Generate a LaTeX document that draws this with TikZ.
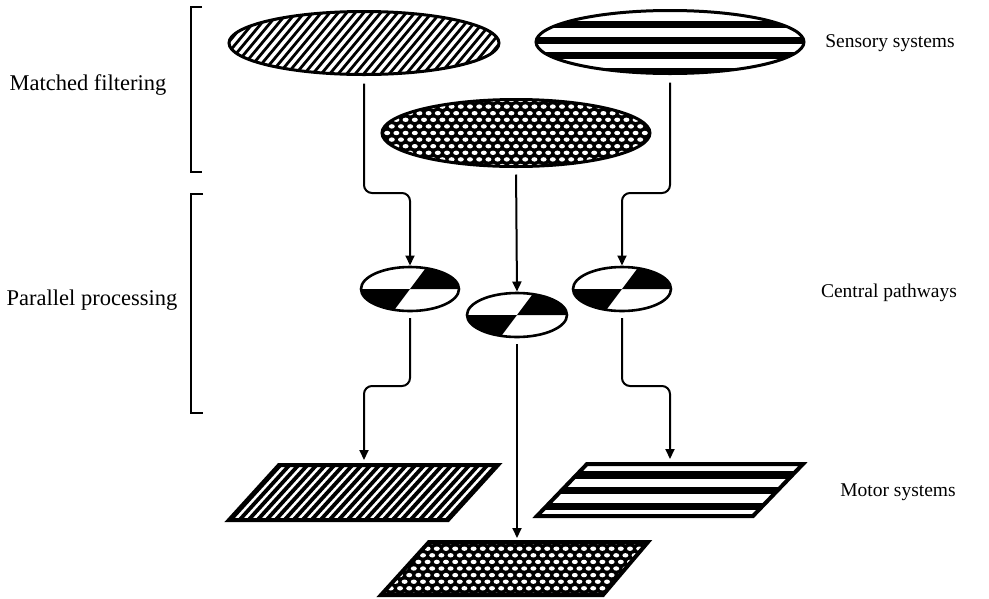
\documentclass[tikz,border=0pt]{standalone}
\usepackage{fontspec}
\setmainfont{Liberation Serif}
\usetikzlibrary{shapes.geometric,arrows.meta}

% white dots on black, hexagonal grid around the origin
\newcommand\dotfield[2]{%
  \foreach \r in {-#2,...,#2}{%
    \foreach \c in {-#1,...,#1}{%
      \pgfmathsetmacro\dx{\c*9.2+(isodd(\r)?4.6:0)}%
      \fill[white] (\dx,\r*6.6) ellipse [x radius=3.0, y radius=2.2];
    }%
  }%
}

\tikzset{
  sensor/.style={ellipse, draw=black, line width=3pt, inner sep=0pt, outer sep=0pt},
  hatched/.style={path picture={
      \begin{scope}[shift={(path picture bounding box.center)}]
        \foreach \i in {-20,...,20}
          \draw[line width=2.8pt] (\i*8.5-30,36) -- (\i*8.5+30,-36);
      \end{scope}}},
  banded/.style={path picture={
      \begin{scope}[shift={(path picture bounding box.center)}]
        \foreach \yy in {-17.5,-2,13.5,29.5}
          \fill (-140,\yy-3.5) rectangle (140,\yy+3.5);
      \end{scope}}},
  dotted field/.style={path picture={
      \begin{scope}[shift={(path picture bounding box.center)}]
        \fill (-140,-40) rectangle (140,40);
        \dotfield{16}{5}
      \end{scope}}},
  hub/.style={ellipse, draw=black, line width=2.6pt, inner sep=0pt, outer sep=0pt,
    minimum width=98pt, minimum height=44pt,
    path picture={
      \begin{scope}[shift={(path picture bounding box.center)}]
        \fill (0,0) -- (30,-40) -- (90,-40) -- (90,0) -- cycle;
        \fill (0,0) -- (-30,40) -- (-90,40) -- (-90,0) -- cycle;
      \end{scope}}},
  conn/.style={line width=2pt, -{Triangle[length=10pt,width=9pt]}, rounded corners=8pt},
  lefttext/.style={font=\fontsize{22.5}{27}\selectfont, inner sep=0pt},
  righttext/.style={font=\fontsize{19.5}{24}\selectfont, inner sep=0pt},
  brace/.style={line width=2pt},
  plate/.style={draw=black, line width=4pt, line join=miter},
}

\begin{document}
\begin{tikzpicture}[x=1pt, y=-1pt]
\useasboundingbox (0,0) rectangle (989,598);

% sensory systems
\node[sensor, hatched, minimum width=270pt, minimum height=63pt] (sensA) at (364,43) {};
\node[sensor, banded, minimum width=268pt, minimum height=63pt] (sensB) at (670,42) {};
\node[sensor, dotted field, minimum width=268pt, minimum height=67pt] (sensC) at (516,133) {};

% central pathways
\node[hub] (cenA) at (410,289) {};
\node[hub, minimum width=100pt] (cenB) at (517,315) {};
\node[hub] (cenC) at (622,289) {};

% motor systems
\begin{scope}
  \clip (279,465) -- (498,465) -- (448,520) -- (229,520) -- cycle;
  \begin{scope}[shift={(363.5,492.5)}]
    \foreach \i in {-20,...,20}
      \draw[line width=3.8pt] (\i*9-30,33) -- (\i*9+30,-33);
  \end{scope}
\end{scope}
\draw[plate] (279,465) -- (498,465) -- (448,520) -- (229,520) -- cycle;

\begin{scope}
  \clip (587,464) -- (803,464) -- (753,516) -- (537,516) -- cycle;
  \begin{scope}[shift={(670,490)}]
    \foreach \yy in {-15,0.7,16.4}
      \fill (-140,\yy-3.7) rectangle (140,\yy+3.7);
  \end{scope}
\end{scope}
\draw[plate] (587,464) -- (803,464) -- (753,516) -- (537,516) -- cycle;

\begin{scope}
  \clip (429,542) -- (648,542) -- (603,595) -- (381,595) -- cycle;
  \begin{scope}[shift={(515,568.5)}]
    \fill (-150,-30) rectangle (150,30);
    \dotfield{17}{4}
  \end{scope}
\end{scope}
\draw[plate] (429,542) -- (648,542) -- (603,595) -- (381,595) -- cycle;

\coordinate (motA) at (364,465);
\coordinate (motB) at (517,542);
\coordinate (motC) at (670,464);

% routing levels of the bent connectors
\coordinate (busUp) at (0,193);
\coordinate (busLo) at (0,386);

% connectors
\draw[conn, shorten <=9pt, shorten >=1.5pt] (sensA.south) -- (sensA.south |- busUp) -- (cenA.north |- busUp) -- (cenA.north);
\draw[conn, shorten <=9pt, shorten >=1.5pt] (sensB.south) -- (sensB.south |- busUp) -- (cenC.north |- busUp) -- (cenC.north);
\draw[conn, shorten <=8pt, shorten >=1.5pt] (sensC.south) -- (cenB.north);

\draw[conn, shorten <=7pt, shorten >=5pt] (cenA.south) -- (cenA.south |- busLo) -- (motA |- busLo) -- (motA);
\draw[conn, shorten <=7pt, shorten >=5pt] (cenC.south) -- (cenC.south |- busLo) -- (motC |- busLo) -- (motC);
\draw[conn, shorten <=7pt, shorten >=4pt] (cenB.south) -- (motB);

% brackets
\draw[brace] (202,7) -- (191,7) -- (191,172) -- (202,172);
\draw[brace] (203,194) -- (191,194) -- (191,413) -- (203,413);

% labels
\node[lefttext] (tMatch) at (88,85) {Matched filtering};
\node[lefttext] (tPar) at (92,300) {Parallel processing};
\node[righttext] (tSens) at (890,43) {Sensory systems};
\node[righttext] (tCen) at (889,293) {Central pathways};
\node[righttext] (tMot) at (898,492) {Motor systems};
\end{tikzpicture}
\end{document}
